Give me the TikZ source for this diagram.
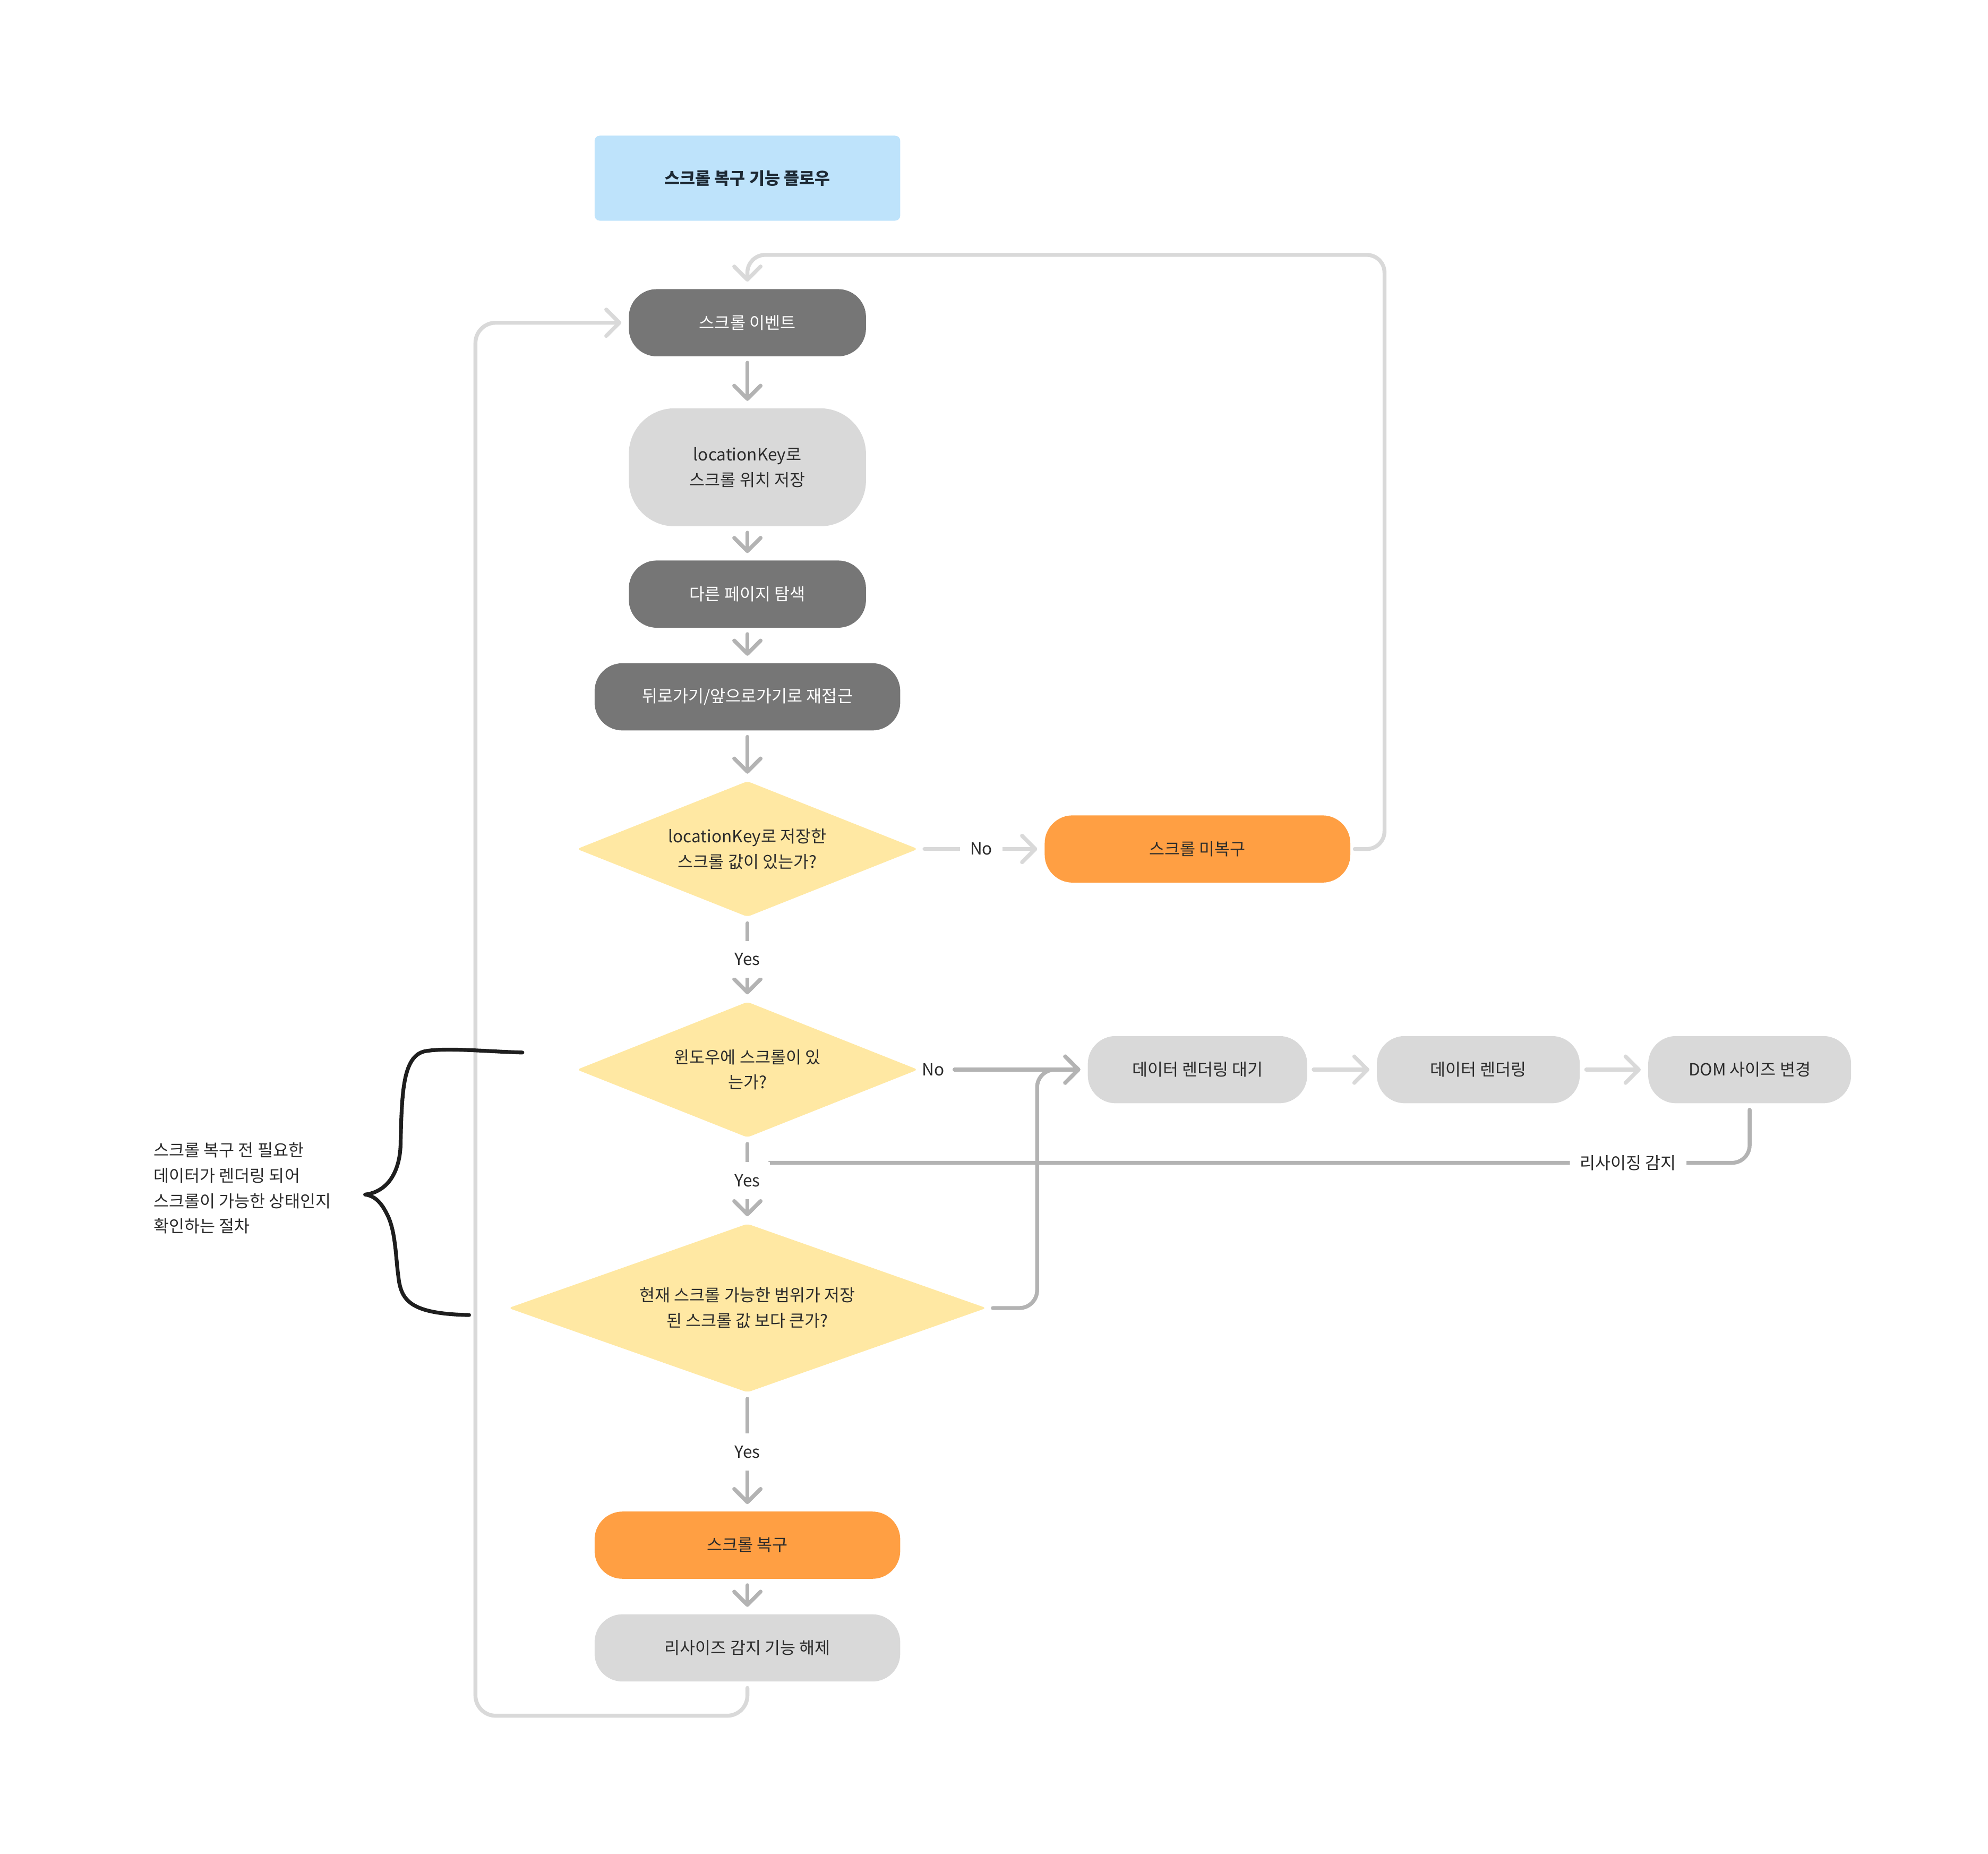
\documentclass[tikz,border=0pt]{standalone}
\usepackage{fontspec}
\setmainfont{Noto Sans CJK KR}
\usetikzlibrary{arrows.meta,shapes.geometric}

\definecolor{boxdark}{HTML}{767676}
\definecolor{boxlight}{HTML}{D9D9D9}
\definecolor{boxorange}{HTML}{FF9F43}
\definecolor{boxyellow}{HTML}{FFE8A3}
\definecolor{boxblue}{HTML}{BEE3FB}
\definecolor{linedark}{HTML}{B3B3B3}
\definecolor{linelight}{HTML}{D9D9D9}
\definecolor{inkdark}{HTML}{2B2B2B}
\definecolor{titleink}{HTML}{1E2A35}
\definecolor{braceink}{HTML}{1E1E1E}

\newcommand{\flowfont}{\fontsize{9.4pt}{14.2pt}\selectfont}

\begin{document}
\begin{tikzpicture}[x=0.025cm, y=-0.025cm,
    box/.style={rectangle, rounded corners=0.55cm, minimum width=4.675cm, minimum height=1.325cm,
        inner sep=0pt, align=center, font=\flowfont, text=inkdark},
    darkbox/.style={box, fill=boxdark, text=white},
    lightbox/.style={box, fill=boxlight},
    orangebox/.style={box, fill=boxorange},
    titlebox/.style={box, fill=boxblue, rounded corners=0.1cm, minimum width=6.025cm,
        minimum height=1.675cm, font=\flowfont\bfseries, text=titleink},
    question/.style={diamond, aspect=2.5, fill=boxyellow, rounded corners=2pt, inner sep=0pt,
        align=center, font=\flowfont, text=inkdark},
    lbl/.style={fill=white, inner xsep=0.2cm, inner ysep=0.24cm, font=\flowfont, text=inkdark},
    flowline/.style={draw=linedark, line width=2.2pt, line cap=round, line join=round, shorten <=0.12cm},
    flow/.style={flowline, shorten >=0.14cm, -{Straight Barb[length=0.26cm, width=0.52cm, round]}},
    flowlight/.style={flow, draw=linelight}]

    \useasboundingbox (0,0) rectangle (1568,1462);

    \node[titlebox] (title) at (589.5,140.5) {스크롤 복구 기능 플로우};
    \node[darkbox] (evt) at (589.5,254.5) {스크롤 이벤트};
    \node[lightbox, minimum height=2.325cm, rounded corners=0.9cm] (save) at (589.5,368.5) {locationKey로\\스크롤 위치 저장};
    \node[darkbox] (nav) at (589.5,468.5) {다른 페이지 탐색};
    \node[darkbox, minimum width=6.025cm] (back) at (589.5,549.5) {뒤로가기/앞으로가기로 재접근};

    \node[question, minimum width=6.725cm, minimum height=2.675cm] (q1) at (589.5,669.5) {locationKey로 저장한\\스크롤 값이 있는가?};
    \node[orangebox, minimum width=6.025cm] (nores) at (944.5,669.5) {스크롤 미복구};

    \node[question, minimum width=6.725cm, minimum height=2.675cm] (q2) at (589.5,843.5) {윈도우에 스크롤이 있\\는가?};
    \node[lightbox, minimum width=4.325cm] (wait) at (944.5,843.5) {데이터 렌더링 대기};
    \node[lightbox, minimum width=4cm] (render) at (1166,843.5) {데이터 렌더링};
    \node[lightbox, minimum width=4cm] (dom) at (1380,843.5) {DOM 사이즈 변경};

    \node[question, minimum width=9.425cm, minimum height=3.325cm] (q3) at (589.5,1031.5) {현재 스크롤 가능한 범위가 저장\\된 스크롤 값 보다 큰가?};
    \node[orangebox, minimum width=6.025cm] (restore) at (589.5,1218.5) {스크롤 복구};
    \node[lightbox, minimum width=6.025cm] (release) at (589.5,1299.5) {리사이즈 감지 기능 해제};

    \node[font=\flowfont, text=inkdark, align=left, anchor=west, inner sep=0pt] (note) at (121,937) {스크롤 복구 전 필요한\\데이터가 렌더링 되어\\스크롤이 가능한 상태인지\\확인하는 절차};

    \coordinate (rightrail) at (1092,201);
    \coordinate (leftrail) at (375,1353);
    \coordinate (jog) at (818,940);
    \coordinate (merge) at (607,917);

    \draw[flow] (evt) -- (save);
    \draw[flow] (save) -- (nav);
    \draw[flow] (nav) -- (back);
    \draw[flow] (back) -- (q1);

    \draw[flowlight] (q1) -- node[lbl] {No} (nores);
    \draw[flowlight, rounded corners=0.35cm, shorten <=0.08cm] (nores) -- (nores -| rightrail) -- (rightrail) -- (evt |- rightrail) -- (evt);

    \draw[flow] (q1) -- node[lbl] {Yes} (q2);
    \node[font=\flowfont, text=inkdark, anchor=west, inner xsep=2pt] (no2) at (q2.east) {No};
    \draw[flow] (no2) -- (wait);
    \draw[flowlight] (wait) -- (render);
    \draw[flowlight] (render) -- (dom);
    \draw[flowline, rounded corners=0.35cm] (dom) -- (dom |- merge) -- node[lbl, pos=0.124] {리사이징 감지} (merge);

    \draw[flow] (q2) -- node[lbl] {Yes} (q3);
    \draw[flow, rounded corners=0.35cm] (q3) -- (q3 -| jog) -- (wait -| jog) -- (wait);

    \draw[flow] (q3) -- node[lbl] {Yes} (restore);
    \draw[flow] (restore) -- (release);
    \draw[flowlight, rounded corners=0.4cm] (release) -- (release |- leftrail) -- (leftrail) -- (leftrail |- evt) -- (evt);

    \draw[draw=braceink, line width=0.075cm, line cap=round, line join=round] (412,830) .. controls (380,829) and (352,826) .. (335,829) .. controls (318,833) and (317,860) .. (316,900) .. controls (316,925) and (305,940) .. (288,942) .. controls (296,943) and (301,949) .. (305,957) .. controls (312,970) and (312,990) .. (314,1005) .. controls (316,1025) and (322,1036) .. (370,1037);

\end{tikzpicture}
\end{document}
